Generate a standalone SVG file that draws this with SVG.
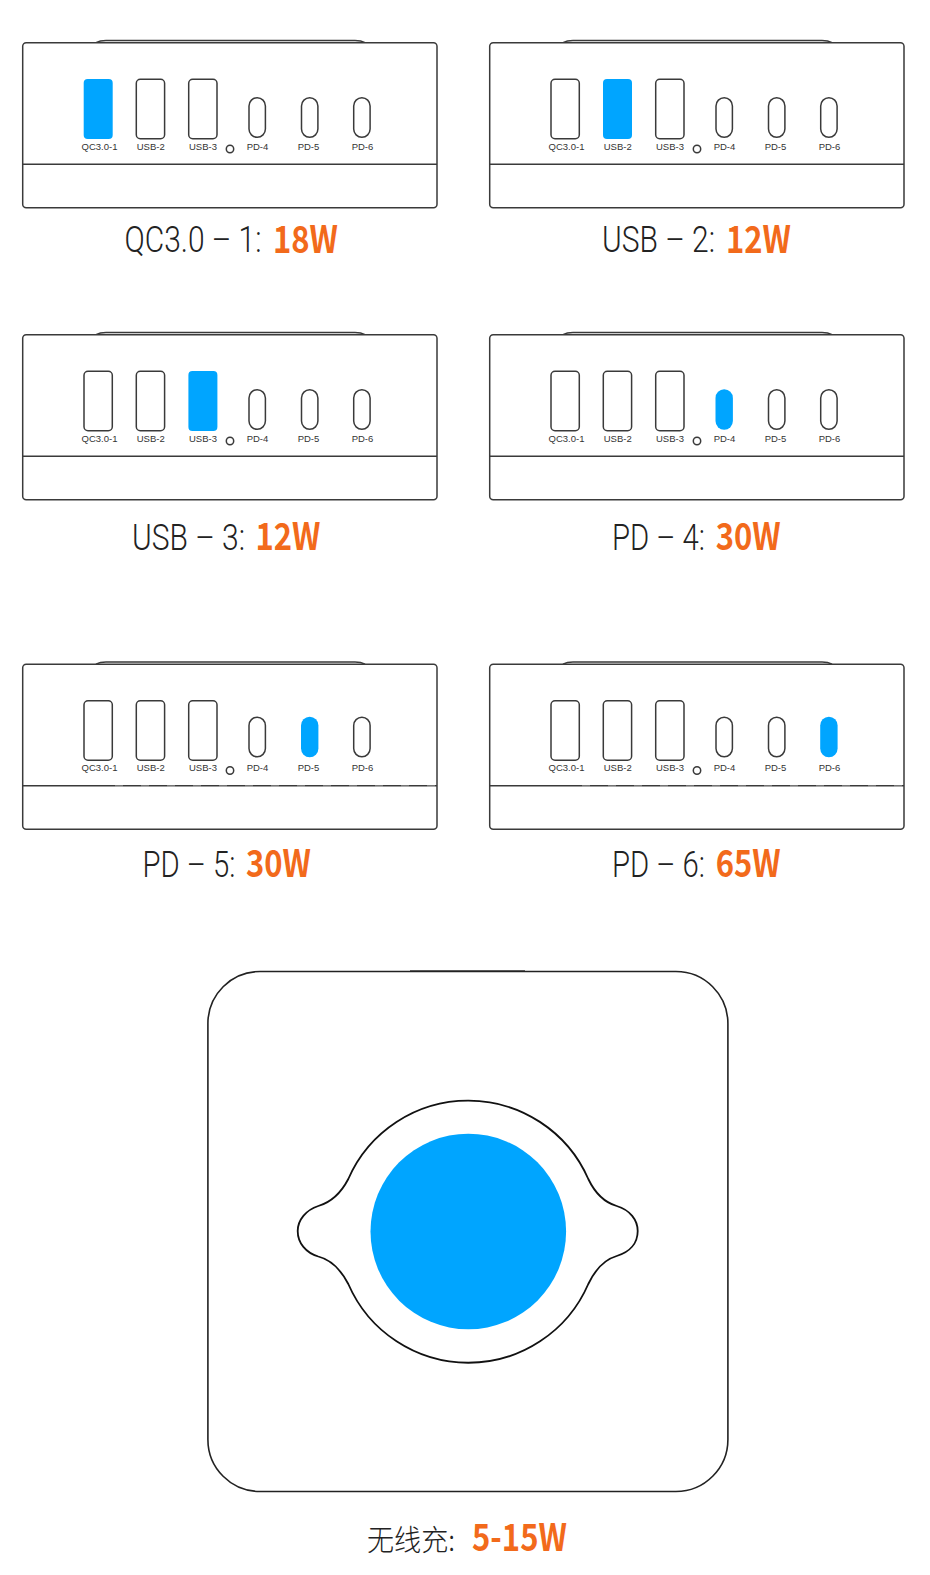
<svg xmlns="http://www.w3.org/2000/svg" width="930" height="1575" viewBox="0 0 930 1575">
<style>
.o{fill:#fff;stroke:#3a3a3a;stroke-width:1.5}
.n{fill:none;stroke:#3a3a3a;stroke-width:1.5}
.on{fill:#00a5ff;stroke:none}
.s{font-family:"Liberation Sans",Arial,sans-serif;font-size:9.5px;fill:#333;text-anchor:middle}
.t{font-family:Roboto,"Noto Sans",sans-serif;font-weight:300;font-size:30px;fill:#222}
.c{font-family:"Noto Sans CJK SC","Noto Sans",sans-serif;font-weight:300;font-size:29px;fill:#222}
.w{font-family:"Noto Sans CJK SC","Noto Sans",sans-serif;font-weight:700;font-size:31px;fill:#f26a1b}
.k{fill:none;stroke:#fff;stroke-opacity:.3;stroke-width:1.5;stroke-dasharray:8 18}
</style>
<defs>
<g id="shell">
<path class="n" d="M96 42.7C99 41 101 40.5 106 40.5H355C360 40.5 362 41 365 42.7"/>
<rect class="o" x="22.7" y="42.7" width="414.3" height="165" rx="3.5"/>
<path class="n" d="M22.7 164.3H437"/>
<circle class="n" cx="230" cy="149" r="3.7"/>
</g>
</defs>
<rect width="930" height="1575" fill="#fff"/>
<g id="device-1">
<use href="#shell"/>
<rect class="on" x="83.7" y="79" width="29" height="60" rx="4"/>
<rect class="o" x="136.3" y="79.3" width="28.3" height="59.4" rx="4"/>
<rect class="o" x="188.7" y="79.3" width="28.3" height="59.4" rx="4"/>
<rect class="o" x="249" y="97.7" width="16.4" height="39.6" rx="8.2"/>
<rect class="o" x="301.5" y="97.7" width="16.4" height="39.6" rx="8.2"/>
<rect class="o" x="353.7" y="97.7" width="16.4" height="39.6" rx="8.2"/>
<text class="s" x="99.5" y="150">QC3.0-1</text><text class="s" x="150.7" y="150">USB-2</text><text class="s" x="203" y="150">USB-3</text><text class="s" x="257.5" y="150">PD-4</text><text class="s" x="308.5" y="150">PD-5</text><text class="s" x="362.5" y="150">PD-6</text>
<text class="t" transform="translate(124.5 252) scale(1 1.2)" textLength="137" lengthAdjust="spacingAndGlyphs">QC3.0 – 1:</text>
<text class="w" transform="translate(273 252.5) scale(1 1.2)" textLength="65" lengthAdjust="spacingAndGlyphs">18W</text>
</g>
<g id="device-2" transform="translate(467 0)">
<use href="#shell"/>
<rect class="o" x="84" y="79.3" width="28.3" height="59.4" rx="4"/>
<rect class="on" x="136" y="79" width="29" height="60" rx="4"/>
<rect class="o" x="188.7" y="79.3" width="28.3" height="59.4" rx="4"/>
<rect class="o" x="249" y="97.7" width="16.4" height="39.6" rx="8.2"/>
<rect class="o" x="301.5" y="97.7" width="16.4" height="39.6" rx="8.2"/>
<rect class="o" x="353.7" y="97.7" width="16.4" height="39.6" rx="8.2"/>
<text class="s" x="99.5" y="150">QC3.0-1</text><text class="s" x="150.7" y="150">USB-2</text><text class="s" x="203" y="150">USB-3</text><text class="s" x="257.5" y="150">PD-4</text><text class="s" x="308.5" y="150">PD-5</text><text class="s" x="362.5" y="150">PD-6</text>
<text class="t" transform="translate(135 252) scale(1 1.2)" textLength="113" lengthAdjust="spacingAndGlyphs">USB – 2:</text>
<text class="w" transform="translate(259 252.5) scale(1 1.2)" textLength="65" lengthAdjust="spacingAndGlyphs">12W</text>
</g>
<g id="device-3" transform="translate(0 292)">
<use href="#shell"/>
<rect class="o" x="84" y="79.3" width="28.3" height="59.4" rx="4"/>
<rect class="o" x="136.3" y="79.3" width="28.3" height="59.4" rx="4"/>
<rect class="on" x="188.4" y="79" width="29" height="60" rx="4"/>
<rect class="o" x="249" y="97.7" width="16.4" height="39.6" rx="8.2"/>
<rect class="o" x="301.5" y="97.7" width="16.4" height="39.6" rx="8.2"/>
<rect class="o" x="353.7" y="97.7" width="16.4" height="39.6" rx="8.2"/>
<text class="s" x="99.5" y="150">QC3.0-1</text><text class="s" x="150.7" y="150">USB-2</text><text class="s" x="203" y="150">USB-3</text><text class="s" x="257.5" y="150">PD-4</text><text class="s" x="308.5" y="150">PD-5</text><text class="s" x="362.5" y="150">PD-6</text>
<text class="t" transform="translate(132 257.5) scale(1 1.2)" textLength="113" lengthAdjust="spacingAndGlyphs">USB – 3:</text>
<text class="w" transform="translate(255.5 258) scale(1 1.2)" textLength="65" lengthAdjust="spacingAndGlyphs">12W</text>
</g>
<g id="device-4" transform="translate(467 292)">
<use href="#shell"/>
<rect class="o" x="84" y="79.3" width="28.3" height="59.4" rx="4"/>
<rect class="o" x="136.3" y="79.3" width="28.3" height="59.4" rx="4"/>
<rect class="o" x="188.7" y="79.3" width="28.3" height="59.4" rx="4"/>
<rect class="on" x="248.5" y="97.3" width="17.4" height="40.4" rx="8.7"/>
<rect class="o" x="301.5" y="97.7" width="16.4" height="39.6" rx="8.2"/>
<rect class="o" x="353.7" y="97.7" width="16.4" height="39.6" rx="8.2"/>
<text class="s" x="99.5" y="150">QC3.0-1</text><text class="s" x="150.7" y="150">USB-2</text><text class="s" x="203" y="150">USB-3</text><text class="s" x="257.5" y="150">PD-4</text><text class="s" x="308.5" y="150">PD-5</text><text class="s" x="362.5" y="150">PD-6</text>
<text class="t" transform="translate(145 257.5) scale(1 1.2)" textLength="93" lengthAdjust="spacingAndGlyphs">PD – 4:</text>
<text class="w" transform="translate(248.7 258) scale(1 1.2)" textLength="65" lengthAdjust="spacingAndGlyphs">30W</text>
</g>
<g id="device-5" transform="translate(0 621.5)">
<use href="#shell"/>
<path class="k" d="M115 164.3H437"/>
<rect class="o" x="84" y="79.3" width="28.3" height="59.4" rx="4"/>
<rect class="o" x="136.3" y="79.3" width="28.3" height="59.4" rx="4"/>
<rect class="o" x="188.7" y="79.3" width="28.3" height="59.4" rx="4"/>
<rect class="o" x="249" y="95.7" width="16.4" height="39.6" rx="8.2"/>
<rect class="on" x="301" y="95.3" width="17.4" height="40.4" rx="8.7"/>
<rect class="o" x="353.7" y="95.7" width="16.4" height="39.6" rx="8.2"/>
<text class="s" x="99.5" y="149.5">QC3.0-1</text><text class="s" x="150.7" y="149.5">USB-2</text><text class="s" x="203" y="149.5">USB-3</text><text class="s" x="257.5" y="149.5">PD-4</text><text class="s" x="308.5" y="149.5">PD-5</text><text class="s" x="362.5" y="149.5">PD-6</text>
<text class="t" transform="translate(142.5 255) scale(1 1.2)" textLength="93" lengthAdjust="spacingAndGlyphs">PD – 5:</text>
<text class="w" transform="translate(246 255.5) scale(1 1.2)" textLength="65" lengthAdjust="spacingAndGlyphs">30W</text>
</g>
<g id="device-6" transform="translate(467 621.5)">
<use href="#shell"/>
<path class="k" d="M115 164.3H437"/>
<rect class="o" x="84" y="79.3" width="28.3" height="59.4" rx="4"/>
<rect class="o" x="136.3" y="79.3" width="28.3" height="59.4" rx="4"/>
<rect class="o" x="188.7" y="79.3" width="28.3" height="59.4" rx="4"/>
<rect class="o" x="249" y="95.7" width="16.4" height="39.6" rx="8.2"/>
<rect class="o" x="301.5" y="95.7" width="16.4" height="39.6" rx="8.2"/>
<rect class="on" x="353.2" y="95.3" width="17.4" height="40.4" rx="8.7"/>
<text class="s" x="99.5" y="149.5">QC3.0-1</text><text class="s" x="150.7" y="149.5">USB-2</text><text class="s" x="203" y="149.5">USB-3</text><text class="s" x="257.5" y="149.5">PD-4</text><text class="s" x="308.5" y="149.5">PD-5</text><text class="s" x="362.5" y="149.5">PD-6</text>
<text class="t" transform="translate(145 255) scale(1 1.2)" textLength="93" lengthAdjust="spacingAndGlyphs">PD – 6:</text>
<text class="w" transform="translate(248.7 255.5) scale(1 1.2)" textLength="65" lengthAdjust="spacingAndGlyphs">65W</text>
</g>
<g id="wireless">
<path class="n" d="M410 971H525"/>
<rect x="207.9" y="971.5" width="520" height="520" rx="52" fill="#fff" stroke="#222" stroke-width="1.6"/>
<path d="M468 1100.7A130.8 130.8 0 0 1 588.3 1179C595 1193 603 1202 616.7 1206C630 1210 637.7 1220 637.7 1231C637.7 1243 630 1252 616.7 1256C603 1260 595 1270 588.3 1284A130.8 130.8 0 0 1 348.3 1284C341 1270 332 1260 318.3 1256.5C306 1253 297.7 1243 297.7 1231C297.7 1220 306 1210 318.3 1206C332 1202 341 1193 348.3 1179A130.8 130.8 0 0 1 468 1100.7Z" fill="#fff" stroke="#111" stroke-width="1.8"/>
<circle class="on" cx="468.3" cy="1231.5" r="97.8"/>
<text class="c" x="367" y="1550.7" textLength="88" lengthAdjust="spacingAndGlyphs">无线充:</text>
<text class="w" transform="translate(472 1551) scale(1 1.2)" textLength="95" lengthAdjust="spacingAndGlyphs">5-15W</text>
</g>
<g id="connectors"/>
</svg>
